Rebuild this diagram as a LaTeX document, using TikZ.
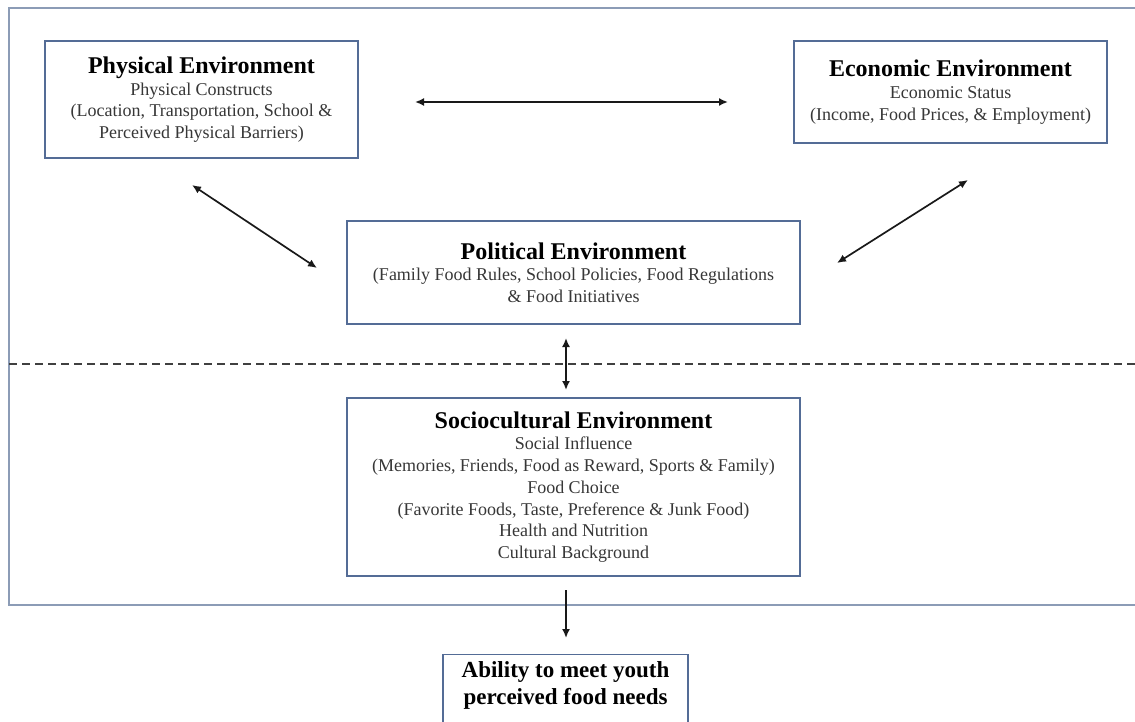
\documentclass[tikz,border=0pt]{standalone}
\usepackage{fontspec}
\setmainfont{Liberation Serif}
\usetikzlibrary{arrows.meta}
\definecolor{boxblue}{RGB}{84,108,150}
\definecolor{framegray}{RGB}{140,156,182}
\definecolor{subgray}{RGB}{55,55,55}
\definecolor{arrowgray}{RGB}{25,25,25}
\newcommand\envtitle[1]{{\fontsize{24}{26}\selectfont\bfseries\color{black}#1}}
\begin{document}
\begin{tikzpicture}[x=1pt,y=-1pt,
  envbox/.style={draw=boxblue, line width=1.3pt, align=center, inner sep=0pt,
    text=subgray, font=\fontsize{18}{21.7}\selectfont},
  goalbox/.style={draw=boxblue, line width=1.3pt, align=center, inner xsep=0pt, inner ysep=7pt,
    text=black, font=\fontsize{23}{27}\selectfont\bfseries, anchor=north, minimum width=245pt, text depth=50pt},
  biarrow/.style={{Latex[length=9pt,width=8pt]}-{Latex[length=9pt,width=8pt]}, line width=1.7pt, draw=arrowgray},
  onearrow/.style={-{Latex[length=9pt,width=8pt]}, line width=1.7pt, draw=arrowgray},
  frameline/.style={draw=framegray, line width=2pt},
  dashline/.style={draw=black!75, line width=1.5pt, dash pattern=on 8pt off 5pt}]
\clip (0,0) rectangle (1135,722);
\fill[white] (0,0) rectangle (1135,722);
% outer frame (open to the right)
\coordinate (f1) at (1150,8);
\coordinate (f2) at (9,8);
\coordinate (f3) at (9,605);
\coordinate (f4) at (1150,605);
\draw[frameline] (f1) -- (f2) -- (f3) -- (f4);
% dashed separator
\coordinate (d1) at (9,364);
\coordinate (d2) at (1140,364);
\draw[dashline] (d1) -- (d2);
% boxes
\node[envbox, minimum width=313pt, minimum height=117pt] (phys) at (201.5,99.5)
  {\envtitle{Physical Environment}\\Physical Constructs\\(Location, Transportation, School \&\\Perceived Physical Barriers)};
\node[envbox, minimum width=313pt, minimum height=102pt] (econ) at (950.5,92)
  {\envtitle{Economic Environment}\\Economic Status\\(Income, Food Prices, \& Employment)};
\node[envbox, minimum width=453pt, minimum height=103pt] (pol) at (573.5,272.5)
  {\envtitle{Political Environment}\\(Family Food Rules, School Policies, Food Regulations\\\& Food Initiatives};
\node[envbox, minimum width=453pt, minimum height=178pt] (soc) at (573.5,487)
  {\envtitle{Sociocultural Environment}\\Social Influence\\(Memories, Friends, Food as Reward, Sports \& Family)\\Food Choice\\(Favorite Foods, Taste, Preference \& Junk Food)\\Health and Nutrition\\Cultural Background};
\node[goalbox] (ability) at (565.5,654) {Ability to meet youth\\perceived food needs};
% connectors
\coordinate (h1) at (415,102);
\coordinate (h2) at (728,102);
\draw[biarrow] (h1) -- (h2);
\coordinate (a1) at (192,185);
\coordinate (a2) at (317,268);
\draw[biarrow] (a1) -- (a2);
\coordinate (b1) at (837,263);
\coordinate (b2) at (968,180);
\draw[biarrow] (b1) -- (b2);
\coordinate (v1) at (566,338);
\coordinate (v2) at (566,390);
\draw[biarrow] (v1) -- (v2);
\coordinate (w1) at (566,590);
\coordinate (w2) at (566,638);
\draw[onearrow] (w1) -- (w2);
\end{tikzpicture}
\end{document}
